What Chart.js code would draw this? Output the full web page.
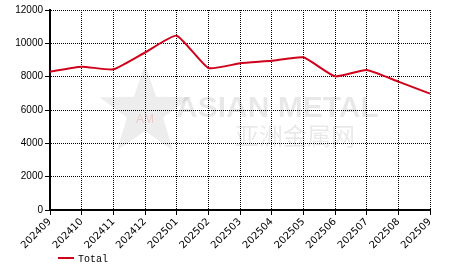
<!DOCTYPE html>
<html>
<head>
<meta charset="utf-8">
<script src="https://cdn.jsdelivr.net/npm/chart.js@4"></script>
<style>
    html, body { margin: 0; padding: 0; background: #fff; }
    #wrap { width: 466px; height: 272px; position: relative; }
</style>
</head>
<body>
<div id="wrap"><canvas id="chart"></canvas></div>
<script>
// Chart data
const months = ['202409', '202410', '202411', '202412', '202501', '202502', '202503',
    '202504', '202505', '202506', '202507', '202508', '202509'];
const totalValues = [8300, 8600, 8440, 9450, 10460, 8520, 8800, 8950, 9160, 8020, 8400, 7700, 6980];
const yMin = 0;
const yMax = 12000;
const yStep = 2000;

const lineColor = '#d0021b';

// Faint watermark behind the plot
const watermark = {
    id: 'watermark',
    beforeDatasetsDraw(chart) {
        const ctx = chart.ctx;
        const a = chart.chartArea;
        ctx.save();
        // star logo
        const cx = a.left + 95, cy = a.top + 102, R = 48, r = 19;
        ctx.beginPath();
        for (let i = 0; i < 10; i++) {
            const rad = i % 2 === 0 ? R : r;
            const ang = -Math.PI / 2 + i * Math.PI / 5;
            const px = cx + rad * Math.cos(ang);
            const py = cy + rad * Math.sin(ang);
            if (i === 0) ctx.moveTo(px, py); else ctx.lineTo(px, py);
        }
        ctx.closePath();
        ctx.fillStyle = 'rgba(0,0,0,0.07)';
        ctx.fill();
        ctx.fillStyle = 'rgba(230,120,120,0.3)';
        ctx.font = '12px "Liberation Sans"';
        ctx.textAlign = 'center';
        ctx.textBaseline = 'middle';
        ctx.fillText('AM', cx, cy + 8);
        // text
        ctx.fillStyle = 'rgba(0,0,0,0.09)';
        ctx.textAlign = 'left';
        ctx.font = 'bold 30px "Liberation Sans"';
        ctx.fillText('ASIAN METAL', a.left + 126, a.top + 99);
        ctx.font = '24px "Noto Sans CJK SC"';
        ctx.fillText('亚洲金属网', a.left + 185, a.top + 126);
        ctx.restore();
    }
};

// Legend drawn under the axis
const bottomLegend = {
    id: 'bottomLegend',
    afterDraw(chart) {
        const ctx = chart.ctx;
        const ds = chart.data.datasets[0];
        const x0 = chart.chartArea.left + 8;
        const y0 = 258;
        ctx.save();
        ctx.strokeStyle = ds.borderColor;
        ctx.lineWidth = 2;
        ctx.beginPath();
        ctx.moveTo(x0, y0);
        ctx.lineTo(x0 + 16, y0);
        ctx.stroke();
        ctx.fillStyle = '#000';
        ctx.font = '10px "Liberation Mono"';
        ctx.textBaseline = 'middle';
        ctx.fillText(ds.label, x0 + 20, y0 + 1);
        ctx.restore();
    }
};

const chart = new Chart(document.getElementById('chart').getContext('2d'), {
    type: 'line',
    data: {
        labels: months,
        datasets: [{
            label: 'Total',
            data: totalValues,
            borderColor: lineColor,
            backgroundColor: lineColor,
            borderWidth: 2,
            pointRadius: 0,
            tension: 0.15,
            fill: false
        }]
    },
    options: {
        responsive: true,
        maintainAspectRatio: false,
        animation: false,
        layout: { padding: { top: 10, right: 36, left: 0, bottom: 0 } },
        plugins: {
            legend: { display: false },
            tooltip: { enabled: false }
        },
        scales: {
            x: {
                offset: false,
                afterFit: (scale) => { scale.height = 62; },
                grid: {
                    color: '#000',
                    lineWidth: 1,
                    tickLength: 5,
                    tickColor: '#000'
                },
                border: { display: true, color: '#000', width: 2, dash: [1, 1] },
                ticks: {
                    color: '#000',
                    minRotation: 45,
                    maxRotation: 45,
                    autoSkip: false,
                    padding: 1,
                    font: { family: '"DejaVu Sans"', size: 10 }
                }
            },
            y: {
                min: yMin,
                max: yMax,
                afterFit: (scale) => { scale.width = 50; },
                grid: {
                    color: '#000',
                    lineWidth: 1,
                    tickLength: 5,
                    tickColor: '#000'
                },
                border: { display: true, color: '#000', width: 2, dash: [1, 1] },
                ticks: {
                    stepSize: yStep,
                    color: '#000',
                    padding: 2,
                    font: { family: '"Liberation Sans"', size: 10 },
                    callback: (value) => String(value)
                }
            }
        }
    },
    plugins: [watermark, bottomLegend]
});
</script>
</body>
</html>
